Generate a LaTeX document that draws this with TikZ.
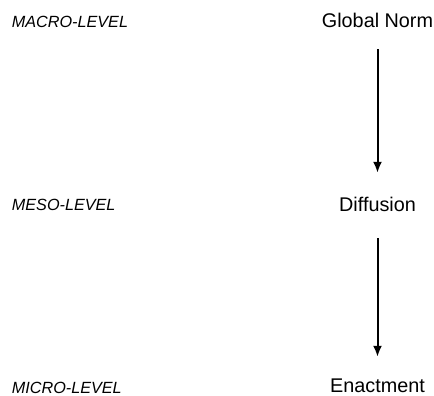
\documentclass[tikz,border=0pt]{standalone}
\usepackage{fontspec}
\setmainfont{Liberation Sans}
\usetikzlibrary{arrows.meta,positioning}

\begin{document}
\begin{tikzpicture}[x=1pt, y=-1pt]
\tikzstyle{level}=[anchor=base west, inner sep=0pt, font=\fontsize{16.2}{19}\selectfont\itshape]
\tikzstyle{main}=[anchor=base, inner sep=0pt, text height=14pt, text depth=0pt, font=\fontsize{19.8}{23}\selectfont]
\tikzstyle{connect}=[-{Latex[length=11pt, width=9pt]}, line width=2pt]
  \useasboundingbox[fill=white] (0,0) rectangle (434,396);
  \node[level] (macro) at (11.7,28) {MACRO-LEVEL};
  \node[level] (meso) at (11.7,210.7) {MESO-LEVEL};
  \node[level] (micro) at (11.7,393.3) {MICRO-LEVEL};
  \node[main] (norm) at (377.5,28) {Global Norm};
  \node[main] (diff) at (377.5,211.7) {Diffusion};
  \node[main] (enact) at (377.5,392.7) {Enactment};
  \draw[connect, shorten <=21pt, shorten >=24.7pt] (norm.south) -- (diff.north);
  \draw[connect, shorten <=26.3pt, shorten >=21.7pt] (diff.south) -- (enact.north);
\end{tikzpicture}
\end{document}
